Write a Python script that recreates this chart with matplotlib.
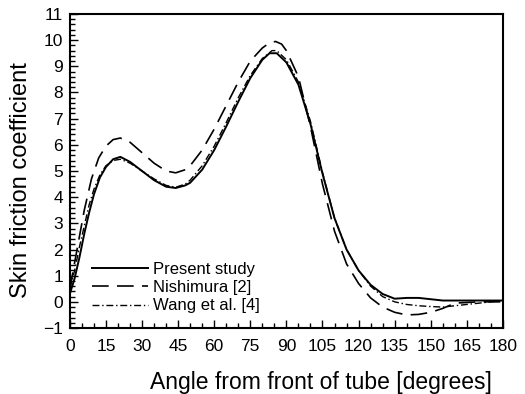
import matplotlib.pyplot as plt
from matplotlib.ticker import MultipleLocator

plt.rcParams['font.family'] = ['Liberation Sans', 'DejaVu Sans']

# angle (deg) and skin friction coefficient
present_x = [0, 2, 4, 6, 8, 10, 12.5, 15, 18, 21, 25, 30, 35, 40, 44, 48, 50, 55, 60, 65, 70,
             75, 80, 83, 86, 90, 95, 100, 105, 110, 115, 120, 125, 130, 135, 140, 145, 150,
             155, 160, 170, 180]
present_y = [0.3, 0.9, 1.7, 2.6, 3.4, 4.1, 4.75, 5.15, 5.45, 5.54, 5.35, 5.0, 4.65, 4.4, 4.35,
             4.45, 4.55, 5.05, 5.8, 6.7, 7.65, 8.55, 9.25, 9.5, 9.5, 9.15, 8.3, 6.8, 4.9, 3.2,
             2.0, 1.2, 0.65, 0.3, 0.12, 0.15, 0.15, 0.1, 0.05, 0.05, 0.05, 0.05]

nish_x = [0, 3, 6, 9, 12, 15, 18, 21, 25, 30, 35, 40, 44, 48, 50, 55, 60, 65, 70, 75, 80, 83,
          85.5, 88, 90, 95, 100, 105, 110, 115, 120, 125, 130, 135, 140, 145, 150, 155, 160,
          170, 180]
nish_y = [0.5, 2.0, 3.5, 4.7, 5.5, 5.95, 6.2, 6.26, 6.1, 5.7, 5.3, 5.0, 4.93, 5.05, 5.2, 5.8,
          6.6, 7.5, 8.4, 9.2, 9.7, 9.9, 9.95, 9.85, 9.6, 8.6, 6.7, 4.5, 2.7, 1.45, 0.7, 0.15,
          -0.2, -0.4, -0.5, -0.48, -0.4, -0.25, -0.05, 0.0, 0.0]

wang_x = [0, 2, 4, 6, 8, 10, 12.5, 15, 18, 21, 25, 30, 35, 40, 44, 48, 50, 55, 60, 65, 70,
          75, 80, 84, 86, 90, 95, 100, 105, 110, 115, 120, 125, 130, 135, 140, 145, 150, 155,
          160, 165, 170, 175, 180]
wang_y = [0.5, 1.2, 2.1, 2.9, 3.7, 4.3, 4.85, 5.2, 5.4, 5.45, 5.3, 5.0, 4.7, 4.45, 4.38, 4.5,
          4.65, 5.2, 5.95, 6.85, 7.8, 8.65, 9.3, 9.6, 9.6, 9.25, 8.4, 6.9, 4.95, 3.2, 2.0, 1.2,
          0.6, 0.2, 0.0, -0.1, -0.15, -0.18, -0.2, -0.15, -0.1, -0.05, 0.0, 0.05]

fig = plt.figure(figsize=(5.25, 3.94), dpi=100)
ax = fig.add_axes([0.133, 0.1675, 0.825, 0.797])

ax.plot(present_x, present_y, color="k", lw=1.4, label="Present study")
ax.plot(nish_x, nish_y, color="k", lw=1.2, dashes=(10, 5), label="Nishimura [2]")
ax.plot(wang_x, wang_y, color="k", lw=1.0, dashes=(5, 2, 1, 2), label="Wang et al. [4]")

ax.set_xlim(0, 180)
ax.set_ylim(-1, 11)
ax.xaxis.set_major_locator(MultipleLocator(15))
ax.xaxis.set_minor_locator(MultipleLocator(5))
ax.yaxis.set_major_locator(MultipleLocator(1))
ax.yaxis.set_minor_locator(MultipleLocator(0.2))
ax.tick_params(which="both", direction="in", top=False, right=False, labelsize=12.5, width=1)
ax.tick_params(axis="x", pad=8)
ax.tick_params(axis="y", pad=5)
ax.tick_params(which="major", length=6)
ax.tick_params(which="minor", length=3.5)
for s in ax.spines.values():
    s.set_linewidth(1.5)

ax.set_xlabel("Angle from front of tube [degrees]", fontsize=16.5, labelpad=12, x=0.58)
ax.set_ylabel("Skin friction coefficient", fontsize=17, labelpad=8, y=0.47)

ax.legend(loc="lower left", bbox_to_anchor=(0.035, 0.025), frameon=False, fontsize=12,
          handlelength=3.4, handletextpad=0.3, labelspacing=0.2, borderaxespad=0)

fig.savefig("out.png", dpi=100)
